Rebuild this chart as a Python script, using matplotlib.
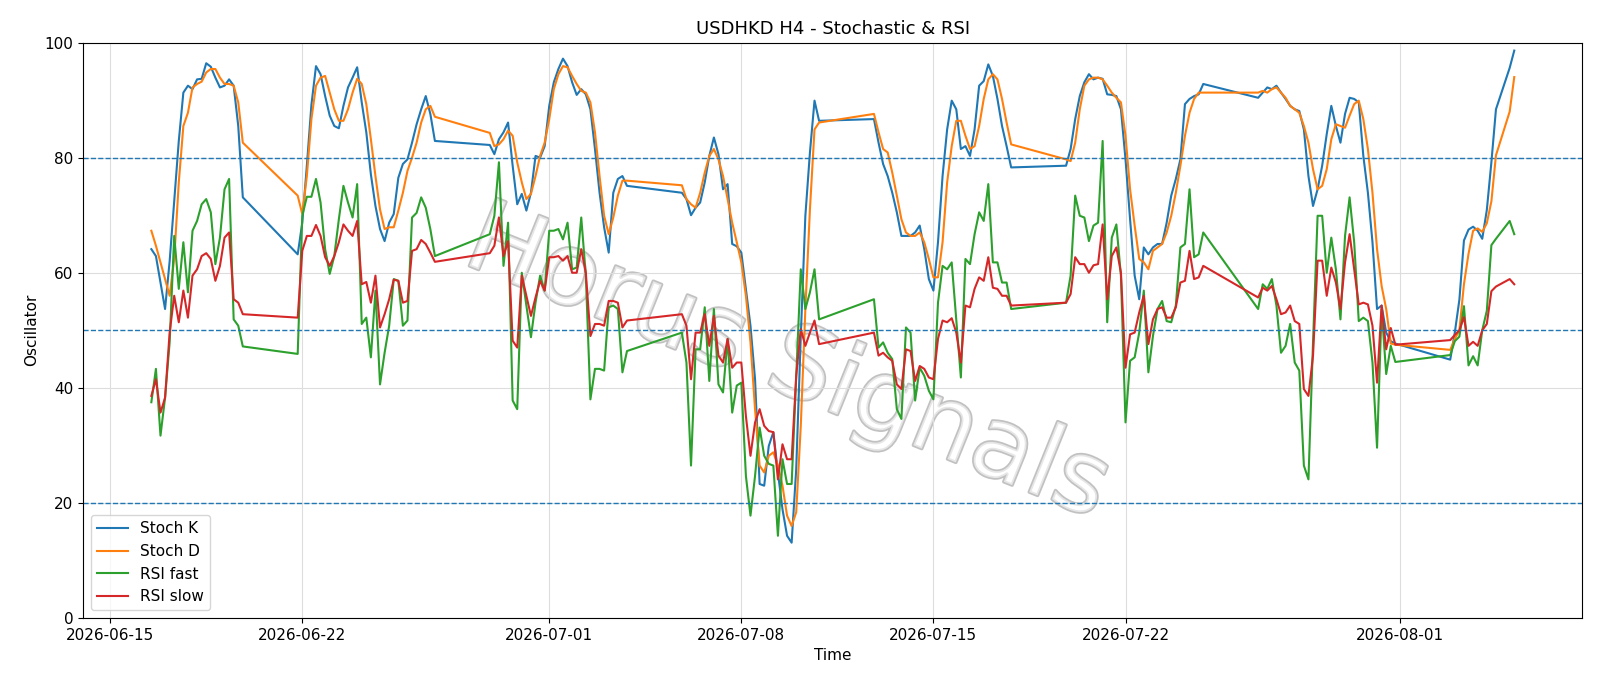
import numpy as np
import pandas as pd
import matplotlib
matplotlib.use("Agg")
import matplotlib.pyplot as plt
import matplotlib.dates as mdates
import matplotlib.patheffects as pe

base = pd.Timestamp("2026-06-15 00:00")
# bar times: hours since 2026-06-15 00:00 (4H bars, with gaps)
hours = (list(range(36, 117, 4)) + [164] + list(range(168, 245, 4)) +
         list(range(248, 285, 4)) + list(range(332, 453, 4)) +
         list(range(500, 621, 4)) + list(range(668, 789, 4)) +
         list(range(836, 957, 4)) + list(range(1004, 1125, 4)) +
         list(range(1172, 1213, 4)) + [1224, 1228])

stoch_k = [64.1,62.9,58.3,53.7,62.0,72.5,82.9,91.3,92.5,91.9,93.6,93.7,96.4,95.8,93.9,92.2,92.5,93.6,92.5,85.5,73.1,
           63.2,68.7,78.6,89.2,95.9,94.5,90.7,87.3,85.5,85.1,89.0,92.2,93.9,95.7,89.6,84.4,77.1,71.6,67.6,65.5,68.7,
           70.2,76.5,78.9,79.7,82.6,85.8,88.4,90.7,87.6,82.9,
           82.2,80.6,83.2,84.4,86.1,78.6,71.9,73.7,70.8,73.9,80.3,80.0,82.0,89.0,93.1,95.4,97.2,95.9,93.1,90.9,91.9,91.0,88.4,81.5,73.9,67.9,63.5,73.9,76.3,76.8,75.1,
           73.9,72.8,70.0,71.3,72.2,75.7,80.3,83.5,80.6,74.5,75.4,65.0,64.6,63.5,57.2,50.8,41.5,23.3,23.0,29.9,32.3,25.3,18.9,14.3,13.1,25.9,49.0,69.9,80.9,89.9,86.4,
           86.7,82.6,78.9,76.8,73.9,70.5,66.4,66.4,66.4,67.0,68.2,64.1,58.9,56.9,65.3,76.8,84.9,89.9,88.4,81.5,82.0,80.3,84.9,92.5,93.3,96.2,94.2,90.2,85.5,82.0,78.3,
           78.6,81.5,86.7,90.7,93.1,94.5,93.6,93.9,93.7,91.0,90.9,90.7,88.4,79.7,69.3,59.5,55.4,64.4,63.2,64.4,65.0,65.0,68.7,73.4,76.3,79.7,89.3,90.2,90.7,91.0,92.8,
           90.4,91.3,92.2,91.9,92.5,91.3,90.2,89.0,88.4,88.1,84.9,76.8,71.6,74.5,78.6,84.1,89.0,85.5,82.6,87.6,90.4,90.2,89.6,80.3,73.9,65.3,53.7,54.3,49.6,48.1,47.7,
           44.9,49.6,55.3,65.6,67.5,68.0,67.3,65.9,70.9,79.2,88.4,95.6,98.6]
stoch_d = [67.3,64.7,61.8,58.9,56.0,62.4,75.7,85.5,87.8,92.2,92.8,93.2,94.8,95.4,95.4,93.9,92.8,92.8,92.5,89.6,82.6,
           73.4,70.2,76.8,86.7,92.5,93.9,94.2,91.3,88.4,86.4,86.4,88.4,91.3,93.7,92.8,89.3,83.2,76.8,71.0,67.6,67.9,
           67.9,70.8,73.9,77.7,80.0,82.6,86.1,88.4,89.0,87.1,
           84.3,82.0,82.3,83.2,84.7,83.8,79.2,75.7,72.8,73.7,76.8,80.3,82.6,86.7,91.9,94.5,95.9,95.7,94.2,92.8,91.6,91.3,89.6,84.4,76.8,69.9,66.7,69.6,73.4,76.0,76.0,
           75.2,72.8,71.9,71.3,73.9,77.4,80.3,81.5,79.7,76.8,72.8,68.7,65.3,61.8,56.0,47.9,36.3,26.5,25.3,28.2,28.8,26.5,23.0,17.8,16.0,18.4,33.4,53.7,71.0,84.9,86.1,
           87.6,84.4,81.5,80.9,77.4,73.4,69.3,67.0,66.4,66.4,67.0,65.3,62.4,59.2,59.2,65.3,75.7,82.0,86.4,86.4,83.8,81.5,82.0,85.5,90.2,93.6,94.5,93.6,90.2,86.1,82.3,
           79.7,79.4,82.6,88.4,92.5,93.6,93.9,93.9,93.6,92.5,91.3,90.4,89.6,83.8,74.5,68.2,62.4,61.8,60.6,63.8,64.4,65.0,67.0,69.9,73.9,78.6,83.8,87.8,90.2,91.3,91.3,
           91.3,91.6,91.3,91.9,92.2,91.3,90.4,89.0,88.4,87.8,85.5,82.6,78.0,74.5,75.1,78.0,83.2,85.8,85.5,85.2,87.3,89.3,89.9,86.7,81.5,73.9,64.1,57.7,53.7,47.7,47.5,
           46.6,48.5,50.0,58.0,63.3,67.3,67.7,67.1,68.6,72.4,80.4,88.0,94.0]
rsi_fast = [37.5,43.3,31.7,38.3,47.9,66.4,57.2,65.3,56.6,67.3,69.0,71.9,72.8,70.5,61.5,66.1,74.5,76.3,51.9,50.8,47.2,
            45.9,69.9,73.2,73.2,76.3,72.2,64.1,59.8,62.9,69.3,75.1,72.2,69.6,75.4,51.1,52.2,45.3,56.9,40.6,46.1,50.8,
            58.9,58.6,50.8,51.7,69.6,70.4,73.1,71.3,67.6,62.9,
            66.7,69.9,79.2,61.2,68.7,37.8,36.3,60.0,54.3,48.8,54.8,59.5,56.9,67.3,67.3,67.6,65.8,68.7,60.6,60.9,69.6,59.5,38.0,43.3,43.3,43.0,54.0,54.3,53.7,42.7,46.4,
            49.6,44.4,26.5,46.7,46.7,54.0,41.2,53.7,40.6,39.2,48.5,35.7,40.4,40.9,24.7,17.8,24.7,33.1,28.2,26.8,26.5,14.3,27.6,23.3,23.3,42.1,60.6,53.7,56.6,60.6,51.9,
            55.4,47.0,47.9,46.1,45.0,36.3,34.6,50.5,49.6,37.8,43.5,42.1,39.5,38.0,54.8,61.2,60.6,61.8,51.9,41.8,62.4,61.5,66.7,70.5,69.0,75.4,61.8,61.8,58.3,58.3,53.7,
            54.8,59.5,73.4,69.9,69.6,65.5,68.2,68.7,82.9,51.4,66.1,68.4,59.5,34.0,44.7,45.3,49.6,56.9,42.7,49.0,53.7,55.1,51.6,51.4,54.3,64.4,65.0,74.5,62.7,63.2,67.0,
            53.7,58.0,57.2,58.9,54.3,46.1,47.3,51.1,44.4,43.0,26.5,24.1,47.9,69.9,69.9,60.0,66.1,60.6,51.9,66.4,73.1,65.3,51.6,52.2,51.6,44.4,29.6,53.7,42.4,47.3,44.5,
            45.7,48.1,48.9,54.2,43.9,45.5,43.9,50.0,53.4,64.8,65.9,69.0,66.7]
rsi_slow = [38.6,41.5,35.7,38.3,49.6,56.0,51.4,56.9,52.2,59.5,60.6,62.9,63.4,62.4,58.6,61.2,66.1,67.0,55.4,54.8,52.8,
            52.2,63.8,66.4,66.4,68.3,66.4,62.7,61.2,62.9,65.3,68.4,67.3,66.4,69.0,58.0,58.4,54.8,59.5,50.5,52.8,55.4,
            58.8,58.6,54.8,55.1,63.8,64.1,65.7,65.0,63.5,61.9,
            63.4,64.7,69.6,62.9,65.5,48.2,47.0,59.5,56.0,52.5,55.7,58.6,56.9,62.7,62.7,62.9,62.1,62.9,60.0,60.0,64.1,60.0,49.0,51.1,51.1,50.8,55.1,55.1,54.8,50.5,51.7,
            52.8,50.8,41.5,49.6,49.6,52.8,47.3,52.5,45.6,44.4,48.5,43.5,44.4,44.4,35.1,28.2,34.0,36.3,33.4,32.5,32.3,24.1,30.2,27.6,27.6,42.1,50.2,47.3,49.6,51.7,47.6,
            49.6,45.6,46.1,45.3,44.7,40.6,39.8,46.7,46.4,41.2,43.8,43.3,41.8,41.5,48.5,51.7,51.4,52.1,49.6,44.4,54.3,54.0,57.2,59.2,58.6,62.7,57.4,57.2,56.0,56.0,54.3,
            54.8,56.3,62.7,61.5,61.5,60.0,61.3,61.5,68.4,55.4,62.9,64.4,60.0,43.5,49.3,49.6,53.1,56.0,47.6,51.9,53.7,54.0,52.2,52.2,54.0,58.3,58.6,63.8,58.9,59.2,61.2,
            55.7,57.4,56.9,57.7,55.4,52.8,53.1,54.3,51.6,51.1,39.8,38.6,45.6,62.1,62.1,56.0,60.9,58.3,53.7,61.8,66.7,60.6,54.5,54.8,54.5,50.8,40.9,54.3,46.7,50.4,47.5,
            48.3,49.2,50.0,52.3,47.3,48.0,47.3,50.0,51.1,56.8,57.6,58.9,58.0]

times = base + pd.to_timedelta(hours, unit="h")

fig = plt.figure(figsize=(16, 6.86), dpi=100)
ax = fig.add_axes([0.052, 0.099, 0.937, 0.839])
ax.plot(times, stoch_k, color="#1f77b4", lw=1.5, label="Stoch K")
ax.plot(times, stoch_d, color="#ff7f0e", lw=1.5, label="Stoch D")
ax.plot(times, rsi_fast, color="#2ca02c", lw=1.5, label="RSI fast")
ax.plot(times, rsi_slow, color="#d62728", lw=1.5, label="RSI slow")
for lvl in (80, 50, 20):
    ax.axhline(lvl, color="#1f77b4", ls="--", lw=1)
ax.set_ylim(0, 100)
ax.grid(True, color="#dddddd", lw=0.8)
ax.set_axisbelow(True)
ax.xaxis.set_major_formatter(mdates.DateFormatter("%Y-%m-%d"))
ax.set_title("USDHKD H4 - Stochastic & RSI", fontsize=13)
ax.set_xlabel("Time", fontsize=11)
ax.set_ylabel("Oscillator", fontsize=11)
ax.tick_params(labelsize=11)
ax.legend(loc="lower left", fontsize=11)
ax.text(0.47, 0.44, "Horus Signals", transform=ax.transAxes, fontsize=72,
        rotation=-22, ha="center", va="center", color="white", alpha=0.6,
        path_effects=[pe.withStroke(linewidth=2.5, foreground="#999999")], zorder=0)
fig.savefig("out.png", dpi=100)
